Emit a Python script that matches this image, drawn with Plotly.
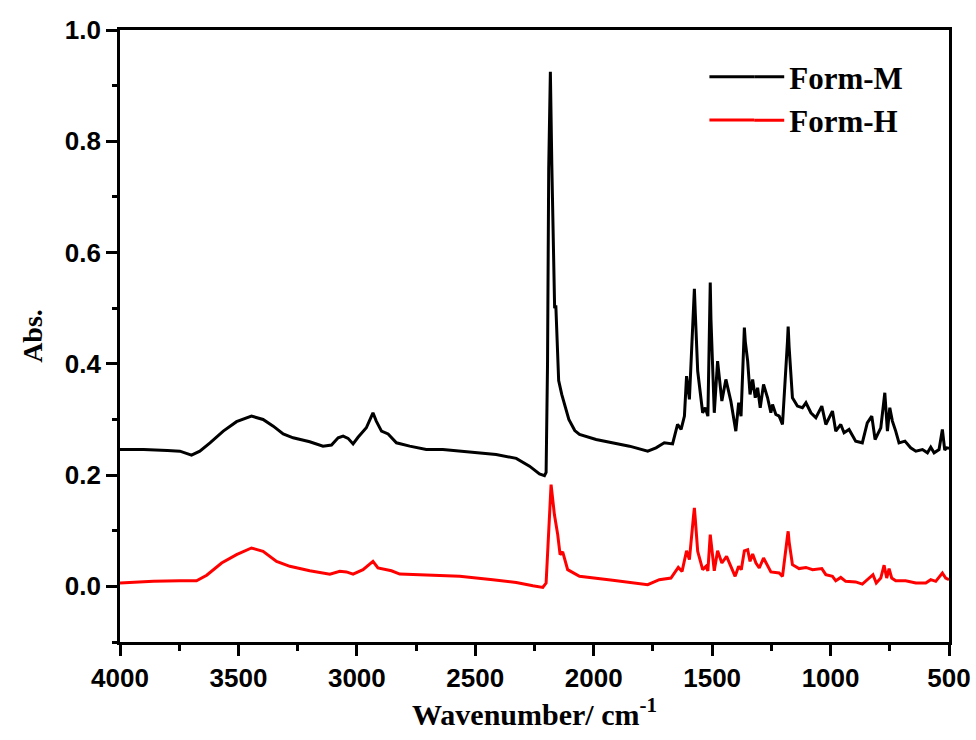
import plotly.graph_objects as go

# ---- Form-M (black) ----
wn_M = [4000, 3900, 3800, 3747, 3698, 3663, 3620, 3564, 3508, 3445, 3396, 3353, 3311, 3269,
        3199, 3143, 3107, 3079, 3058, 3037, 3016, 2995, 2960, 2946, 2932, 2918, 2896, 2868,
        2833, 2777, 2707, 2637, 2566, 2496, 2412, 2327, 2271, 2229, 2208, 2201, 2195, 2190,
        2183, 2177, 2170, 2165, 2160, 2155, 2148, 2135, 2120, 2105, 2080, 2060, 1990, 1920,
        1849, 1772, 1737, 1702, 1667, 1646, 1631, 1617, 1608, 1596, 1579, 1575, 1571, 1561,
        1540, 1529, 1518, 1511, 1508, 1505, 1491, 1477, 1459, 1442, 1421, 1400, 1388, 1378,
        1367, 1364, 1360, 1350, 1340, 1329, 1318, 1308, 1297, 1283, 1266, 1252, 1245, 1231,
        1217, 1203, 1182, 1179, 1175, 1161, 1140, 1119, 1104, 1083, 1062, 1037, 1020, 992,
        978, 957, 943, 922, 894, 866, 845, 826, 812, 788, 771, 760, 750, 739, 725, 711, 686,
        662, 640, 612, 591, 577, 563, 542, 528, 518, 510, 500]
abs_M = [0.246, 0.246, 0.244, 0.243, 0.236, 0.243, 0.258, 0.279, 0.296, 0.306, 0.300, 0.288,
         0.274, 0.267, 0.260, 0.252, 0.254, 0.267, 0.270, 0.266, 0.256, 0.268, 0.285, 0.297,
         0.312, 0.297, 0.279, 0.274, 0.258, 0.252, 0.246, 0.246, 0.243, 0.240, 0.237, 0.230,
         0.216, 0.202, 0.199, 0.205, 0.400, 0.750, 0.925, 0.760, 0.560, 0.500, 0.505, 0.450,
         0.370, 0.345, 0.320, 0.300, 0.280, 0.273, 0.264, 0.258, 0.252, 0.243, 0.249, 0.258,
         0.256, 0.291, 0.282, 0.306, 0.378, 0.336, 0.500, 0.535, 0.490, 0.387, 0.312, 0.321,
         0.306, 0.500, 0.546, 0.480, 0.312, 0.405, 0.333, 0.372, 0.333, 0.279, 0.330, 0.306,
         0.430, 0.465, 0.440, 0.405, 0.345, 0.372, 0.339, 0.357, 0.321, 0.363, 0.339, 0.312,
         0.327, 0.309, 0.306, 0.291, 0.440, 0.467, 0.430, 0.339, 0.324, 0.321, 0.330, 0.312,
         0.303, 0.324, 0.291, 0.315, 0.279, 0.291, 0.276, 0.282, 0.261, 0.258, 0.294, 0.306,
         0.264, 0.285, 0.348, 0.279, 0.321, 0.297, 0.279, 0.258, 0.261, 0.249, 0.243, 0.246,
         0.240, 0.250, 0.240, 0.246, 0.282, 0.245, 0.249, 0.248]

# ---- Form-H (red) ----
wn_H = [4000, 3859, 3747, 3677, 3634, 3571, 3508, 3445, 3396, 3339, 3283, 3199, 3114, 3072,
        3044, 3016, 2974, 2932, 2911, 2875, 2854, 2819, 2707, 2566, 2426, 2327, 2257, 2215,
        2201, 2180, 2166, 2152, 2142, 2131, 2110, 2060, 1920, 1772, 1723, 1674, 1643, 1627,
        1608, 1596, 1579, 1575, 1571, 1561, 1540, 1526, 1518, 1508, 1491, 1477, 1459, 1439,
        1421, 1403, 1388, 1377, 1364, 1350, 1340, 1329, 1315, 1301, 1283, 1266, 1252, 1217,
        1203, 1182, 1179, 1175, 1161, 1133, 1104, 1076, 1037, 1020, 992, 978, 957, 936, 894,
        866, 838, 821, 807, 788, 774, 763, 753, 742, 725, 683, 640, 598, 577, 556, 528, 514,
        500]
abs_H = [0.006, 0.009, 0.010, 0.010, 0.020, 0.042, 0.057, 0.069, 0.063, 0.045, 0.036, 0.028,
         0.022, 0.027, 0.026, 0.022, 0.030, 0.045, 0.033, 0.030, 0.028, 0.022, 0.020, 0.018,
         0.012, 0.007, 0.001, -0.002, 0.006, 0.183, 0.129, 0.093, 0.057, 0.062, 0.030, 0.018,
         0.011, 0.003, 0.012, 0.015, 0.034, 0.027, 0.064, 0.048, 0.125, 0.141, 0.120, 0.063,
         0.030, 0.036, 0.028, 0.093, 0.028, 0.064, 0.042, 0.054, 0.036, 0.018, 0.036, 0.030,
         0.064, 0.066, 0.045, 0.058, 0.042, 0.033, 0.051, 0.036, 0.026, 0.024, 0.018, 0.090,
         0.099, 0.080, 0.039, 0.032, 0.034, 0.030, 0.032, 0.021, 0.018, 0.010, 0.016, 0.009,
         0.008, 0.004, 0.015, 0.021, 0.006, 0.015, 0.038, 0.015, 0.032, 0.015, 0.010, 0.010,
         0.006, 0.006, 0.012, 0.009, 0.024, 0.015, 0.012]

series_names = ["Form-M", "Form-H"]
series_colors = ["black", "#ff0000"]
x_tick_vals = [4000, 3500, 3000, 2500, 2000, 1500, 1000, 500]
y_tick_vals = [0.0, 0.2, 0.4, 0.6, 0.8, 1.0]

fig = go.Figure()
fig.add_trace(go.Scatter(x=wn_M, y=abs_M, mode="lines", name=series_names[0],
                         line=dict(color=series_colors[0], width=3)))
fig.add_trace(go.Scatter(x=wn_H, y=abs_H, mode="lines", name=series_names[1],
                         line=dict(color=series_colors[1], width=3)))

# extend legend line samples to the left (style only)
legend_rows_y = [0.9235, 0.853]
for ly, col in zip(legend_rows_y, series_colors):
    fig.add_shape(type="line", xref="paper", yref="paper", x0=0.711, x1=0.765, y0=ly, y1=ly,
                  line=dict(color=col, width=3))

tick_font = dict(family="Liberation Sans, Arial, sans-serif", size=26, color="black", weight="bold")
title_font = dict(family="Liberation Serif, Times New Roman, serif", size=30, color="black", weight="bold")

fig.update_layout(
    width=976, height=740,
    margin=dict(l=120, r=27, t=30, b=98),
    paper_bgcolor="white", plot_bgcolor="white",
    showlegend=True,
    legend=dict(x=0.759, y=0.967, xanchor="left", yanchor="top",
                bgcolor="rgba(0,0,0,0)", borderwidth=0,
                font=dict(family="Liberation Serif, Times New Roman, serif", size=31,
                          color="black", weight="bold"),
                tracegroupgap=0, itemwidth=30),
    xaxis=dict(range=[4000, 500], tickvals=x_tick_vals, automargin=False,
               ticks="outside", ticklen=11, tickwidth=2.5, tickcolor="black",
               minor=dict(dtick=250, ticks="outside", ticklen=6, tickwidth=2.5, tickcolor="black"),
               showline=True, linewidth=2.8, linecolor="black", mirror=True,
               showgrid=False, zeroline=False, tickfont=tick_font,
               title=dict(text="Wavenumber/ cm<sup>-1</sup>", font=title_font, standoff=12)),
    yaxis=dict(range=[-0.1, 1.0], tickvals=y_tick_vals, tickformat=".1f", automargin=False,
               ticks="outside", ticklen=11, tickwidth=2.5, tickcolor="black",
               minor=dict(dtick=0.1, tick0=0, ticks="outside", ticklen=5, tickwidth=2.5, tickcolor="black"),
               showline=True, linewidth=2.8, linecolor="black", mirror=True,
               showgrid=False, zeroline=False, tickfont=tick_font,
               title=dict(text="Abs.", font=dict(family="Liberation Serif, Times New Roman, serif",
                                                 size=28, color="black", weight="bold"), standoff=14)),
)

fig.write_html("out.html")
